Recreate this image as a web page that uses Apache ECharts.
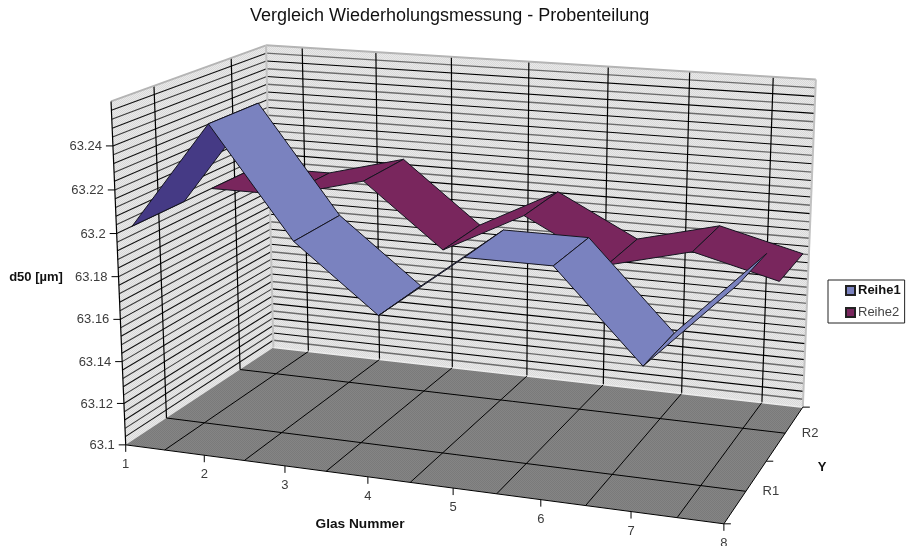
<!DOCTYPE html>
<html><head><meta charset="utf-8"><style>html,body{margin:0;padding:0;background:#fff}#c{width:906px;height:546px}</style>
<script src="https://cdn.jsdelivr.net/npm/echarts@6/dist/echarts.min.js"></script></head><body><div id="c"></div>
<script>
var glas = [1, 2, 3, 4, 5, 6, 7, 8];
var reihe1 = [63.20, 63.25, 63.20, 63.17, 63.20, 63.20, 63.16, 63.20];
var reihe2 = [63.20, 63.20, 63.21, 63.18, 63.20, 63.18, 63.19, 63.18];
var yTicks = [63.1, 63.12, 63.14, 63.16, 63.18, 63.2, 63.22, 63.24];
var depthLabels = ['R1', 'R2'];
var yMin = 63.1, yMax = 63.26, yMinor = 0.004;
var xMin = 1, xMax = 8;

// perspective camera: (u along Glas, d along Y, w along d50; each 0..1) -> screen pixels
var cam = [530.7876, 186.9871, -19.17500, 125.7239,
           30.20307, -47.30134, -347.5392, 444.8618,
           -0.09306601, 0.1437452, -0.04029701];
function project(u, d, w) {
  var h = cam[8]*u + cam[9]*d + cam[10]*w + 1;
  return [(cam[0]*u + cam[1]*d + cam[2]*w + cam[3]) / h,
          (cam[4]*u + cam[5]*d + cam[6]*w + cam[7]) / h];
}
var W = 906, H = 546, FONT = '"Liberation Sans", Arial, sans-serif';

function dither(c1, c2) {
  var cv = document.createElement('canvas'); cv.width = cv.height = 2;
  var g = cv.getContext('2d');
  g.fillStyle = c1; g.fillRect(0, 0, 2, 2);
  g.fillStyle = c2; g.fillRect(0, 0, 1, 1); g.fillRect(1, 1, 1, 1);
  return {image: cv, repeat: 'repeat'};
}
var wallFill = dither('#e9e9e9', '#d9d9d9'), floorFill = dither('#858585', '#7a7a7a');

// hidden axes supply the scales; the camera then places the scaled values in perspective
function scaled(api, x, v, d) {
  var p = api.coord([x, v]);
  return project(p[0] / W, d, 1 - p[1] / H);
}
function ln(a, b, color, width) {
  return {type: 'line', silent: true, shape: {x1: a[0], y1: a[1], x2: b[0], y2: b[1]},
          style: {stroke: color, lineWidth: width}};
}
function poly(pts, fill) {
  return {type: 'polygon', silent: true, shape: {points: pts}, style: {fill: fill}};
}
function txt(x, y, s, align, bold, color, size) {
  return {type: 'text', silent: true, style: {x: x, y: y, text: s, align: align, verticalAlign: 'middle',
          fill: color, fontSize: size || 13, fontFamily: FONT, fontWeight: bold ? 'bold' : 'normal'}};
}
function renderFrame(params, api) {
  var k = [], P = function (x, v, d) { return scaled(api, x, v, d); }, i, a, b;
  var rim = '#b4b4b4', line = '#000', text = '#3c3c3c';
  k.push(poly([P(xMin, yMin, 0), P(xMin, yMax, 0), P(xMin, yMax, 1), P(xMin, yMin, 1)], wallFill));
  k.push(poly([P(xMin, yMin, 1), P(xMin, yMax, 1), P(xMax, yMax, 1), P(xMax, yMin, 1)], wallFill));
  // minor value gridlines
  for (i = 1; i * yMinor < yMax - yMin - 1e-6; i++) {
    var v = yMin + i * yMinor;
    k.push(ln(P(xMin, v, 0), P(xMin, v, 1), i % 2 ? '#111' : '#3a3a3a', 1.1));
    k.push(ln(P(xMin, v, 1), P(xMax, v, 1), i % 2 ? '#6a6a6a' : '#000', i % 2 ? 1.4 : 1.1));
  }
  // wall verticals
  [0.25, 0.75].forEach(function (d) { k.push(ln(P(xMin, yMin, d), P(xMin, yMax, d), line, 1.2)); });
  glas.slice(0, -1).forEach(function (g) { k.push(ln(P(g + .5, yMin, 1), P(g + .5, yMax, 1), line, 1.2)); });
  // wall rims
  k.push(ln(P(xMin, yMax, 0), P(xMin, yMax, 1), rim, 2));
  k.push(ln(P(xMin, yMax, 1), P(xMax, yMax, 1), rim, 2));
  k.push(ln(P(xMin, yMin, 1), P(xMin, yMax, 1), '#c2c2c2', 2));
  k.push(ln(P(xMax, yMin, 1), P(xMax, yMax, 1), '#c2c2c2', 2));
  // floor
  k.push(poly([P(xMin, yMin, 0), P(xMax, yMin, 0), P(xMax, yMin, 1), P(xMin, yMin, 1)], floorFill));
  k.push(ln(P(xMin, yMin, 1), P(xMax, yMin, 1), '#ececec', 1.5));
  glas.slice(0, -1).forEach(function (g) { k.push(ln(P(g + .5, yMin, 0), P(g + .5, yMin, 1), line, 1)); });
  [0.25, 0.75].forEach(function (d) { k.push(ln(P(xMin, yMin, d), P(xMax, yMin, d), line, 1)); });
  // axis lines
  k.push(ln(P(xMin, yMin, 0), P(xMax, yMin, 0), line, 1));
  k.push(ln(P(xMax, yMin, 0), P(xMax, yMin, 1), line, 1));
  k.push(ln(P(xMin, yMin, 0), P(xMin, yMax, 0), line, 1.2));
  // value axis ticks + labels
  yTicks.forEach(function (t) {
    a = P(xMin, t, 0);
    k.push(ln(a, [a[0] - 7, a[1]], line, 1));
    k.push(txt(a[0] - 11, a[1] + 0.5, String(t), 'right', false, text));
  });
  // category ticks + labels
  glas.forEach(function (g) {
    a = P(g, yMin, 0);
    k.push(ln(a, [a[0], a[1] + 7], line, 1));
    k.push(txt(a[0], a[1] + 19.5, String(g), 'center', false, text));
  });
  // depth ticks + labels
  [0, .5, 1].forEach(function (d) { a = P(xMax, yMin, d); k.push(ln(a, [a[0] + 7, a[1]], line, 1)); });
  depthLabels.forEach(function (s, i) {
    a = P(xMax, yMin, .25 + i * .5);
    k.push(txt(a[0] + 25, a[1], s, 'center', false, text));
  });
  k.push(txt(360, 524, 'Glas Nummer', 'center', true, '#111', 13.7));
  k.push(txt(36, 277, 'd50 [µm]', 'center', true, '#111', 13));
  k.push(txt(822, 467, 'Y', 'center', true, '#111', 13));
  return {type: 'group', children: k};
}
function ribbon(d0, d1, under) {
  return function (params, api) {
    var x0 = api.value(0), v0 = api.value(1), x1 = api.value(2), v1 = api.value(3);
    var a = scaled(api, x0, v0, d0), b = scaled(api, x1, v1, d0),
        c = scaled(api, x1, v1, d1), e = scaled(api, x0, v0, d1);
    var cross = (b[0]-a[0])*(e[1]-a[1]) - (b[1]-a[1])*(e[0]-a[0]);
    return {type: 'polygon', silent: true, shape: {points: [a, b, c, e]},
      style: {fill: cross > 0 ? under : api.visual('color'), stroke: '#14141f', lineWidth: 1}};
  };
}
function segments(vals) {
  return vals.slice(0, -1).map(function (v, i) { return [glas[i], v, glas[i + 1], vals[i + 1]]; });
}
var c = echarts.init(document.getElementById('c'));
c.setOption({
  animation: false,
  backgroundColor: '#fff',
  title: {text: 'Vergleich Wiederholungsmessung - Probenteilung', left: 250, top: 7,
    textStyle: {fontFamily: FONT, fontSize: 18, fontWeight: 'normal', color: '#111'}, padding: 0},
  grid: {left: 0, right: 0, top: 0, bottom: 0},
  xAxis: {type: 'value', min: xMin, max: xMax, show: false},
  yAxis: {type: 'value', min: yMin, max: yMax, show: false},
  legend: {data: [{name: 'Reihe1', textStyle: {fontWeight: 'bold', color: '#111'}}, {name: 'Reihe2', textStyle: {color: '#444'}}],
    orient: 'vertical', left: 828, top: 280, padding: [4, 4, 4, 17], itemGap: 9, itemWidth: 9, itemHeight: 9, icon: 'rect',
    selectedMode: false, borderColor: '#222', borderWidth: 1, backgroundColor: '#fff',
    textStyle: {fontFamily: FONT, fontSize: 13, padding: [0, 0, 0, -2]}},
  series: [
    {name: 'Raster', type: 'custom', coordinateSystem: 'cartesian2d', silent: true, clip: false, data: [[xMin, yMin]], renderItem: renderFrame},
    {name: 'Reihe2', type: 'custom', coordinateSystem: 'cartesian2d', silent: true, clip: false, encode: {x: [0, 2], y: [1, 3]},
      itemStyle: {color: '#79265d', borderColor: '#222', borderWidth: .8}, data: segments(reihe2), renderItem: ribbon(.59, .91, '#4d1a3b')},
    {name: 'Reihe1', type: 'custom', coordinateSystem: 'cartesian2d', silent: true, clip: false, encode: {x: [0, 2], y: [1, 3]},
      itemStyle: {color: '#7a82bf', borderColor: '#222', borderWidth: .8}, data: segments(reihe1), renderItem: ribbon(.09, .41, '#453a85')}
  ]
});
</script></body></html>
